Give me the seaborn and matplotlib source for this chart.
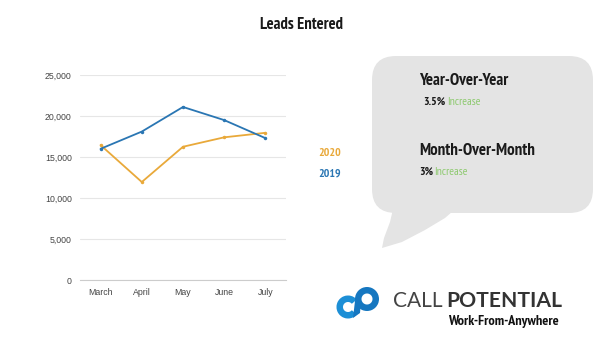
import numpy as np
import pandas as pd
import matplotlib
matplotlib.use("Agg")
import matplotlib.pyplot as plt
import seaborn as sns
from matplotlib.patches import FancyBboxPatch, Polygon, Wedge

months = ["March", "April", "May", "June", "July"]
leads_2019 = [16000, 18100, 21100, 19500, 17300]
leads_2020 = [16450, 11950, 16250, 17400, 17950]
y_ticks = [0, 5000, 10000, 15000, 20000, 25000]
y_tick_labels = ["0", "5,000", "10,000", "15,000", "20,000", "25,000"]

BLUE = "#2a76b3"
ORANGE = "#e9a93a"
GREEN = "#8dc96e"

sns.set_theme(style="white")
plt.rcParams["font.family"] = ["Liberation Sans", "DejaVu Sans"]

df = pd.DataFrame({
    "month": months * 2,
    "leads": leads_2019 + leads_2020,
    "year": ["2019"] * len(months) + ["2020"] * len(months),
})
df["pos"] = list(range(len(months))) * 2

fig = plt.figure(figsize=(6.08, 3.42), dpi=100)
fig.patch.set_facecolor("white")

ax = fig.add_axes([80 / 608, 1 - 280 / 342, 206 / 608, 205 / 342])
sns.lineplot(data=df, x="pos", y="leads", hue="year",
             palette={"2019": BLUE, "2020": ORANGE}, hue_order=["2020", "2019"],
             marker="o", markersize=2.5, markeredgewidth=0, linewidth=1.3,
             legend=False, ax=ax)
ax.set_xlim(-0.5, len(months) - 0.5)
ax.set_ylim(0, 25000)
ax.set_xticks(range(len(months)))
ax.set_xticklabels(months)
ax.set_yticks(y_ticks)
ax.set_yticklabels(y_tick_labels)
ax.tick_params(axis="both", labelsize=6.3, colors="#444444", length=0, pad=6)
ax.set_xlabel("")
ax.set_ylabel("")
ax.yaxis.grid(True, color="#e6e6e6", linewidth=0.8)
ax.set_axisbelow(True)
for s in ["top", "right", "left"]:
    ax.spines[s].set_visible(False)
ax.spines["bottom"].set_color("#cccccc")
ax.spines["bottom"].set_linewidth(0.8)

# overlay in pixel coordinates
ov = fig.add_axes([0, 0, 1, 1], zorder=-1)
ov.set_xlim(0, 608)
ov.set_ylim(342, 0)
ov.axis("off")

cond = ["PT Sans Narrow", "Fira Sans Condensed", "DejaVu Sans"]

ov.text(302, 25, "Leads Entered", ha="center", va="center",
        fontsize=12, fontweight="bold", color="#1a1a1a", family=cond)

ov.text(318, 153, "2020", ha="left", va="center", fontsize=8.5,
        fontweight="bold", color=ORANGE, family=cond)
ov.text(318, 174, "2019", ha="left", va="center", fontsize=8.5,
        fontweight="bold", color=BLUE, family=cond)

# speech bubble
bub = FancyBboxPatch((372, 56), 221, 157, boxstyle="round,pad=0,rounding_size=24",
                     facecolor="#e4e4e4", edgecolor="none")
ov.add_patch(bub)
tail = Polygon([[394, 205], [460, 205], [445, 218], [425, 230], [402, 242], [382, 248],
                [384, 238], [390, 222]],
               closed=True, facecolor="#e4e4e4", edgecolor="none")
ov.add_patch(tail)

ov.text(419, 81, "Year-Over-Year", ha="left", va="center", fontsize=12.2,
        fontweight="bold", color="#1a1a1a", family=cond)
ov.text(423, 102, "3.5%", ha="left", va="center", fontsize=8.5,
        fontweight="bold", color="#1a1a1a", family=cond)
ov.text(447, 102, "Increase", ha="left", va="center", fontsize=8.5,
        color=GREEN, family=cond)
ov.text(419, 151, "Month-Over-Month", ha="left", va="center", fontsize=12.2,
        fontweight="bold", color="#1a1a1a", family=cond)
ov.text(419, 172, "3%", ha="left", va="center", fontsize=8.5,
        fontweight="bold", color="#1a1a1a", family=cond)
ov.text(434, 172, "Increase", ha="left", va="center", fontsize=8.5,
        color=GREEN, family=cond)

# logo
LB = "#1d8fd6"
DB = "#1677c0"
ov.add_patch(Wedge((348, 307), 11.5, 40, 320, width=6.5, facecolor=LB, edgecolor="none"))
ov.add_patch(Wedge((367, 299), 12, 0, 360, width=6.5, facecolor=DB, edgecolor="none"))
ov.add_patch(Polygon([[355, 301], [361, 301], [360, 313], [353, 318]], closed=True,
                     facecolor=DB, edgecolor="none"))
ov.text(443, 301, "CALL", ha="right", va="center", fontsize=15, color="#444444",
        family=["Lato", "DejaVu Sans"], fontweight="normal")
ov.text(562, 301, "POTENTIAL", ha="right", va="center", fontsize=15.2, color="#333333",
        family=["Lato", "DejaVu Sans"], fontweight="bold")
ov.text(559, 321, "Work-From-Anywhere", ha="right", va="center", fontsize=10.3,
        fontweight="bold", color="#111111", family=cond)

fig.savefig("out.png", dpi=100, facecolor="white")
